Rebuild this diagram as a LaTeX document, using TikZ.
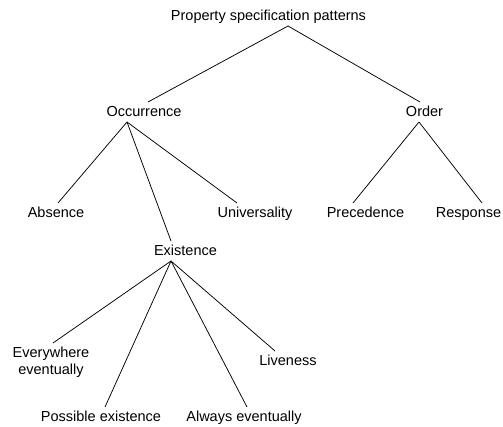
\documentclass[tikz,border=0pt]{standalone}
\usepackage{fontspec}
\setmainfont{Liberation Sans}
\usepackage{tikz}
\tikzset{
  every label node/.style={font=\fontsize{14.5}{17.5}\selectfont, inner sep=0pt,
    outer sep=3pt, text height=11pt, text depth=3pt},
  branch/.style={draw, line width=0.75pt},
}

\begin{document}
\begin{tikzpicture}[x=1pt, y=-1pt, every node/.style={every label node}]
    \useasboundingbox (0,0) rectangle (503,426);
    \node (root) at (268.5,16) {Property specification patterns};
    \node (occ)  at (144,112)  {Occurrence};
    \node (ord)  at (424.5,112){Order};
    \node (abs)  at (56,213)   {Absence};
    \node (uni)  at (255,213)  {Universality};
    \node (pre)  at (365.5,213){Precedence};
    \node (res)  at (468.5,213){Response};
    \node (exi)  at (185.5,251){Existence};
    \node[anchor=north, align=center, text height=28.5pt]
                 (eve) at (51,343) {Everywhere\\eventually};
    \node (liv)  at (288,361)  {Liveness};
    \node (pos)  at (101,417)  {Possible existence};
    \node (alw)  at (244,417)  {Always eventually};
    \path[branch]
      ([xshift=19.5pt]root.south) edge ([xshift=4pt]occ.north)
      ([xshift=19.5pt]root.south) edge ([xshift=-4.5pt]ord.north)
      ([xshift=-17pt]occ.south)   edge ([xshift=2pt]abs.north)
      ([xshift=-17pt]occ.south)   edge ([xshift=-14.5pt]exi.north)
      ([xshift=-17pt]occ.south)   edge ([xshift=-18pt]uni.north)
      ([xshift=-5.5pt]ord.south)  edge ([xshift=-12.5pt]pre.north)
      ([xshift=-5.5pt]ord.south)  edge ([xshift=13.5pt]res.north)
      ([xshift=-14.5pt]exi.south) edge ([xshift=2pt]eve.north)
      ([xshift=-14.5pt]exi.south) edge ([xshift=4pt]pos.north)
      ([xshift=-14.5pt]exi.south) edge ([xshift=3pt]alw.north)
      ([xshift=-14.5pt]exi.south) edge ([xshift=-13pt]liv.north);
\end{tikzpicture}
\end{document}
